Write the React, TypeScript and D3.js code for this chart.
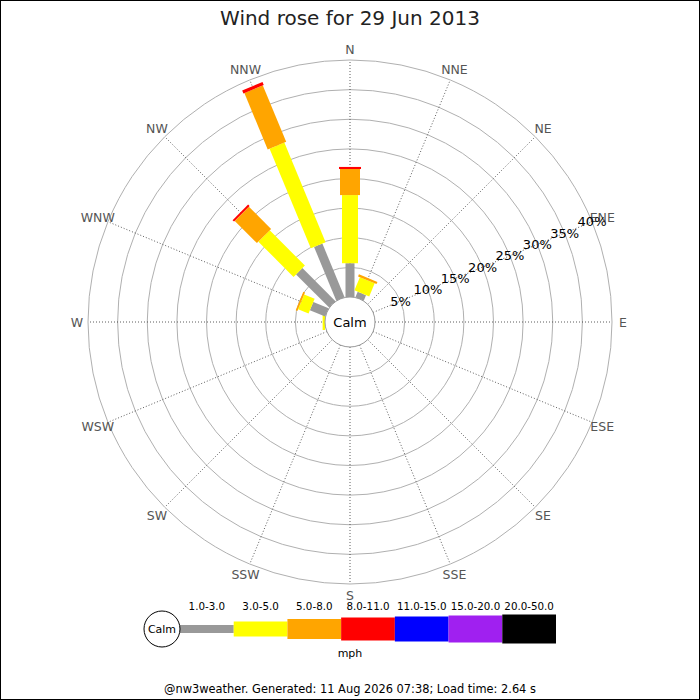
import React from "react";
import * as d3 from "d3";

const directions = ["N","NNE","NE","ENE","E","ESE","SE","SSE","S","SSW","SW","WSW","W","WNW","NW","NNW"];
const speedBands = ["1.0-3.0","3.0-5.0","5.0-8.0","8.0-11.0","11.0-15.0","15.0-20.0","20.0-50.0"];
const bandColors = ["#999999","#ffff00","#ffa500","#ff0000","#0000ff","#a020f0","#000000"];
const ringTicks = [5,10,15,20,25,30,35,40];
// percent of time per direction per speed band
const gray   = [5.7,1.0,0,0,0,0,0,0,0,0,0,0,0.0,2.8,7.9,9.8];
const yellow = [11.5,2.4,0,0,0,0,0,0,0,0,0,0,0.4,1.9,8.4,18.2];
const orange = [4.4,0.4,0,0,0,0,0,0,0,0,0,0,0,0.3,5.3,10.3];
const red    = [0.35,0,0,0,0,0,0,0,0,0,0,0,0,0,0.35,0.55];
const title = "Wind rose for 29 Jun 2013";
const footer = "@nw3weather. Generated: 11 Aug 2026 07:38; Load time: 2.64 s";

const cx = 350, cy = 322;
const calmR = 25;
const bandWidths = [9, 16, 20, 22, 25, 27, 29];
const legendHeights = [8, 15, 20, 23, 25, 27, 29];
const font = "DejaVu Sans, sans-serif";

export default function App() {
  const r = d3.scaleLinear().domain([0, 40]).range([calmR, 262]);
  const series = [gray, yellow, orange, red];
  const angle = d3.scaleLinear().domain([0, 16]).range([0, 360]);

  const segs: any[] = [];
  directions.forEach((d, i) => {
    let acc = 0;
    series.forEach((s, b) => {
      const v = s[i];
      if (v > 0) {
        segs.push({ i, b, r0: r(acc), r1: r(acc + v) });
      }
      acc += v;
    });
  });

  const legX = d3.scaleBand().domain(speedBands).range([180, 556]);
  const legY = 629;

  const lblAng = (67.5 * Math.PI) / 180;

  return (
    <svg width={700} height={700} style={{ position: "absolute", left: 0, top: 0, background: "#fff" }}
      fontFamily={font}>
      <rect x={0.5} y={0.5} width={699} height={699} fill="#fff" stroke="#000" />
      <text x={350} y={25} textAnchor="middle" fontSize={20} fill="#222">{title}</text>
      {ringTicks.map((t) => (
        <circle key={t} cx={cx} cy={cy} r={r(t)} fill="none" stroke="#b0b0b0" strokeWidth={1} />
      ))}
      {directions.map((d, i) => {
        const a = (angle(i) * Math.PI) / 180;
        const sx = Math.sin(a), sy = -Math.cos(a);
        return (
          <g key={d}>
            <line x1={cx + sx * calmR} y1={cy + sy * calmR} x2={cx + sx * r(40)} y2={cy + sy * r(40)}
              stroke="#333" strokeWidth={0.8} strokeDasharray="1,2" />
            <text x={cx + sx * 273} y={cy + sy * 273} textAnchor="middle" dominantBaseline="central"
              fontSize={12.5} fill="#555">{d}</text>
          </g>
        );
      })}
      {segs.map((s, k) => (
        <rect key={k} transform={`translate(${cx},${cy}) rotate(${angle(s.i)})`}
          x={-bandWidths[s.b] / 2} y={-s.r1} width={bandWidths[s.b]} height={s.r1 - s.r0}
          fill={bandColors[s.b]} />
      ))}
      {ringTicks.map((t) => (
        <text key={t} x={cx + Math.sin(lblAng) * r(t)} y={cy - Math.cos(lblAng) * r(t)}
          textAnchor="middle" dominantBaseline="central" fontSize={13} fill="#000">{t}%</text>
      ))}
      <circle cx={cx} cy={cy} r={calmR} fill="#fff" stroke="#999" />
      <text x={cx} y={cy} textAnchor="middle" dominantBaseline="central" fontSize={13} fill="#000">Calm</text>

      {/* legend */}
      <line x1={162} y1={legY} x2={180} y2={legY} stroke="#999" strokeWidth={8} />
      {speedBands.map((b, i) => (
        <g key={b}>
          <rect x={legX(b)} y={legY - legendHeights[i] / 2} width={legX.bandwidth()}
            height={legendHeights[i]} fill={bandColors[i]} />
          <text x={legX(b)! + legX.bandwidth() / 2} y={610} textAnchor="middle" fontSize={10.3} fill="#000">{b}</text>
        </g>
      ))}
      <circle cx={162} cy={legY} r={18} fill="#fff" stroke="#000" />
      <text x={162} y={legY} textAnchor="middle" dominantBaseline="central" fontSize={11} fill="#000">Calm</text>
      <text x={350} y={657} textAnchor="middle" fontSize={11} fill="#000">mph</text>
      <text x={350} y={693} textAnchor="middle" fontSize={11.4} fill="#000">{footer}</text>
    </svg>
  );
}
